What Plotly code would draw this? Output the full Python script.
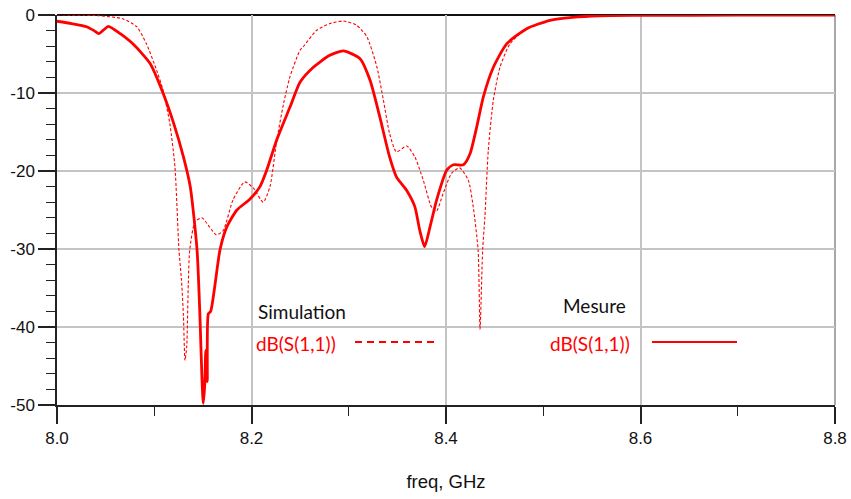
import plotly.graph_objects as go

# Measured S11 (solid)
meas_f = [8.0, 8.015, 8.0305, 8.038, 8.043, 8.048, 8.053, 8.065, 8.078, 8.0956, 8.109, 8.12, 8.13, 8.137,
          8.144, 8.147, 8.149, 8.1504, 8.152, 8.153, 8.1545, 8.1556, 8.158, 8.1676, 8.1745, 8.185, 8.1985,
          8.2087, 8.2156, 8.2258, 8.2396, 8.25, 8.2636, 8.28, 8.2944, 8.3116, 8.322, 8.332, 8.342, 8.349,
          8.3596, 8.368, 8.373, 8.378, 8.3835, 8.3904, 8.4007, 8.4075, 8.418, 8.4247, 8.4316, 8.4384, 8.4487,
          8.4624, 8.483, 8.507, 8.53, 8.558, 8.6, 8.7, 8.8]
meas_db = [-0.8, -1.1, -1.5, -2.0, -2.4, -1.9, -1.45, -2.4, -3.7, -6.2, -10.0, -13.9, -18.2, -22.0,
           -30.1, -38.7, -46.4, -49.8, -47.2, -43.0, -47.0, -38.3, -38.0, -30.1, -27.2, -25.0, -23.6,
           -22.0, -19.9, -16.05, -11.8, -8.6, -6.7, -5.2, -4.6, -5.6, -8.4, -13.1, -18.2, -20.75,
           -22.5, -24.6, -27.6, -29.7, -27.2, -23.7, -19.9, -19.2, -19.2, -17.8, -14.35, -10.5, -6.7,
           -3.7, -1.75, -0.68, -0.3, -0.1, -0.05, -0.02, 0.0]

# Simulated S11 (dashed)
sim_f = [8.0, 8.044, 8.068, 8.082, 8.092, 8.1025, 8.109, 8.116, 8.1213, 8.1254, 8.128, 8.13, 8.1316, 8.1334,
         8.135, 8.1365, 8.142, 8.149, 8.157, 8.164, 8.171, 8.181, 8.193, 8.202, 8.212, 8.219, 8.226, 8.233,
         8.2396, 8.2499, 8.253, 8.267, 8.2807, 8.2944, 8.308, 8.3187, 8.329, 8.3356, 8.342, 8.349, 8.3596,
         8.368, 8.3767, 8.385, 8.39, 8.397, 8.4057, 8.414, 8.423, 8.428, 8.433, 8.435, 8.4377, 8.44, 8.4435,
         8.4487, 8.4555, 8.4658, 8.483, 8.507, 8.53, 8.56, 8.6, 8.7, 8.8]
sim_db = [0.0, -0.1, -0.5, -1.5, -3.7, -7.1, -9.6, -13.9, -19.5, -30.1, -34.0, -38.5, -44.3, -42.5,
          -34.4, -30.1, -26.5, -26.0, -27.2, -28.2, -27.6, -23.7, -21.4, -22.2, -24.0, -22.0, -16.05, -11.35,
          -7.9, -4.5, -4.1, -1.96, -1.1, -0.77, -1.3, -2.8, -6.7, -10.9, -15.2, -17.55, -16.8,
          -18.2, -21.2, -24.6, -25.2, -22.9, -20.3, -19.6, -21.2, -24.6, -30.1, -40.3, -30.1, -25.9, -17.3,
          -10.9, -6.7, -3.7, -1.75, -0.68, -0.3, -0.1, -0.05, -0.02, 0.0]

x_ticks = [8.0, 8.2, 8.4, 8.6, 8.8]
x_labels = ["8.0", "8.2", "8.4", "8.6", "8.8"]
y_ticks = [0, -10, -20, -30, -40, -50]
y_labels = ["0", "-10", "-20", "-30", "-40", "-50"]

RED = "#ff0000"
TICK_FONT = dict(family="Liberation Sans, Arial, sans-serif", size=17, color="#111111")

fig = go.Figure()
fig.add_trace(go.Scatter(x=sim_f, y=sim_db, mode="lines",
                         line=dict(color=RED, width=1.1, dash="3px,2px", shape="spline", smoothing=0.6),
                         showlegend=False, hoverinfo="skip"))
fig.add_trace(go.Scatter(x=meas_f, y=meas_db, mode="lines",
                         line=dict(color=RED, width=2.8, shape="spline", smoothing=0.6),
                         showlegend=False, hoverinfo="skip"))

fig.update_layout(
    width=851, height=499,
    margin=dict(l=57, r=16, t=15, b=94, autoexpand=False),
    paper_bgcolor="white", plot_bgcolor="white",
    font=dict(family="Liberation Sans, Arial, sans-serif", size=17, color="#111111"),
    xaxis=dict(range=[8.0, 8.8], tickvals=x_ticks, ticktext=x_labels, automargin=False,
               tickfont=TICK_FONT, ticklabeloverflow="allow",
               showgrid=True, gridcolor="#c4c4c4", gridwidth=1.5,
               showline=True, linecolor="#222222", linewidth=1.5,
               ticks="outside", ticklen=17, tickwidth=1.5, tickcolor="#222222",
               minor=dict(dtick=0.1, ticks="outside", ticklen=9, tickwidth=1, tickcolor="#222222", showgrid=False),
               zeroline=False,
               title=dict(text="freq, GHz", font=dict(size=18.5, family="Liberation Sans, Arial, sans-serif",
                                                      color="#111111"), standoff=28)),
    yaxis=dict(range=[-50, 0], tickvals=y_ticks, ticktext=y_labels, automargin=False,
               tickfont=TICK_FONT, ticklabeloverflow="allow",
               showgrid=True, gridcolor="#c4c4c4", gridwidth=1.5,
               showline=True, linecolor="#222222", linewidth=1.5,
               ticks="outside", ticklen=17, tickwidth=1.5, tickcolor="#222222",
               minor=dict(dtick=2, ticks="outside", ticklen=9, tickwidth=1, tickcolor="#222222", showgrid=False),
               zeroline=False),
)

# frame: black top line, gray right line
fig.add_shape(type="line", xref="paper", yref="paper", x0=0, x1=1, y0=1, y1=1,
              line=dict(color="#111111", width=2), layer="below")
fig.add_shape(type="line", xref="paper", yref="paper", x0=1, x1=1, y0=0, y1=1,
              line=dict(color="#a8a8a8", width=2), layer="below")

W, H = 778.0, 390.0
def px(x):
    return (x - 57) / W
def py(y):
    return (405 - y) / H

LEG_FONT = "Lato, Calibri, sans-serif"
def label(text, x, y, color):
    fig.add_annotation(text=text, x=px(x), y=py(y), xref="paper", yref="paper",
                       xanchor="center", yanchor="middle", showarrow=False,
                       font=dict(family=LEG_FONT, size=19, color=color))

label("Simulation", 302, 311, "#111111")
label("dB(S(1,1))", 296, 343, RED)
fig.add_shape(type="line", xref="paper", yref="paper", x0=px(355), x1=px(438), y0=py(342), y1=py(342),
              line=dict(color=RED, width=2, dash="7px,5px"))
label("Mesure", 594, 305, "#111111")
label("dB(S(1,1))", 590, 343, RED)
fig.add_shape(type="line", xref="paper", yref="paper", x0=px(652), x1=px(737), y0=py(342), y1=py(342),
              line=dict(color=RED, width=2.2))

fig.write_html("out.html", config={"displayModeBar": False},
               post_script="document.body.style.margin='0';document.body.style.overflow='hidden';")
